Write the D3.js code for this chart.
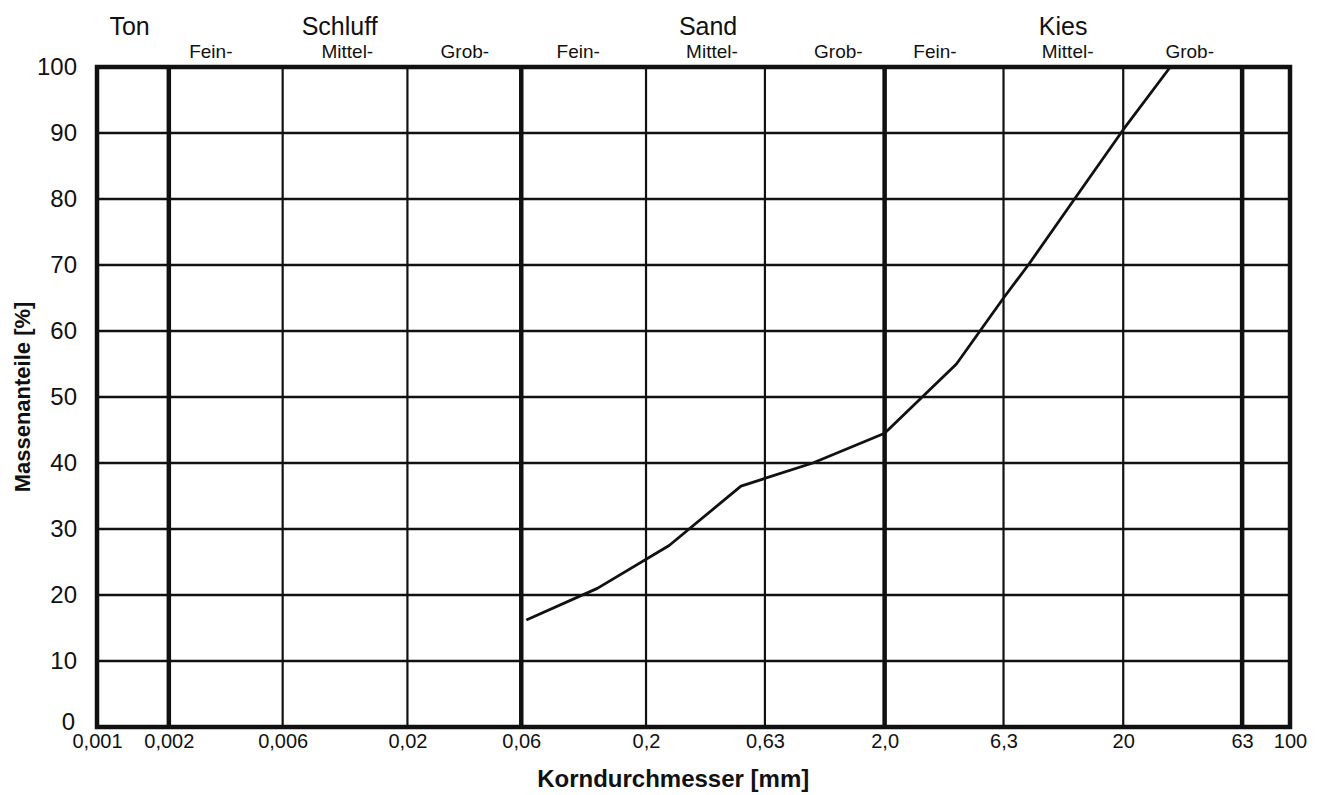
<!DOCTYPE html>
<html>
<head>
<meta charset="utf-8">
<script src="https://cdn.jsdelivr.net/npm/d3@7"></script>
<style>
  body { margin: 0; background: #fff; }
  svg text { font-family: Arial, "Liberation Sans", sans-serif; fill: #111; }
</style>
</head>
<body>
<svg width="1324" height="795"></svg>
<script>
// Korngrößenverteilung (Sieblinie)
var grain = [0.063, 0.125, 0.25, 0.5, 1.0, 2.0, 4.0, 6.3, 8.0, 12.5, 20, 31.5];
var passing = [16.2, 21, 27.5, 36.5, 40, 44.5, 55, 65, 70, 80, 90.5, 100];

var xTicks = [0.001, 0.002, 0.006, 0.02, 0.06, 0.2, 0.63, 2.0, 6.3, 20, 63, 100];
var xTickLabels = ["0,001", "0,002", "0,006", "0,02", "0,06", "0,2", "0,63", "2,0", "6,3", "20", "63", "100"];
var boundaries = [0.002, 0.06, 2.0, 63];
var yTicks = [0, 10, 20, 30, 40, 50, 60, 70, 80, 90, 100];

var mainClasses = ["Ton", "Schluff", "Sand", "Kies"];
var mainPos = [0.00137, 0.0104, 0.364, 11.2];
var subClasses = ["Fein-", "Mittel-", "Grob-", "Fein-", "Mittel-", "Grob-", "Fein-", "Mittel-", "Grob-"];
var subPos = [0.0030, 0.0112, 0.0348, 0.104, 0.378, 1.28, 3.25, 11.7, 38];

var svg = d3.select("svg"),
    margin = {top: 67, right: 34, bottom: 68, left: 97},
    width = +svg.attr("width") - margin.left - margin.right,
    height = +svg.attr("height") - margin.top - margin.bottom,
    g = svg.append("g").attr("transform", "translate(" + margin.left + "," + margin.top + ")");

var x = d3.scaleLog().domain([0.001, 100]).range([0, width]);
var y = d3.scaleLinear().domain([0, 100]).range([height, 0]);

// horizontal grid
g.selectAll(".hgrid")
  .data(yTicks.filter(function(d) { return d > 0 && d < 100; }))
  .enter().append("line")
    .attr("x1", 0).attr("x2", width)
    .attr("y1", function(d) { return y(d); })
    .attr("y2", function(d) { return y(d); })
    .attr("stroke", "#111")
    .attr("stroke-width", 2.5);

// vertical grid, thick at class boundaries
g.selectAll(".vgrid")
  .data(xTicks.slice(1, -1))
  .enter().append("line")
    .attr("x1", function(d) { return x(d); })
    .attr("x2", function(d) { return x(d); })
    .attr("y1", 0).attr("y2", height)
    .attr("stroke", "#111")
    .attr("stroke-width", function(d) { return boundaries.indexOf(d) >= 0 ? 4.5 : 2.2; });

// frame
g.append("rect")
  .attr("x", 0).attr("y", 0)
  .attr("width", width).attr("height", height)
  .attr("fill", "none")
  .attr("stroke", "#111")
  .attr("stroke-width", 4.5);

// axes
var xAxis = g.append("g")
    .attr("transform", "translate(0," + height + ")")
    .call(d3.axisBottom(x)
      .tickValues(xTicks)
      .tickSize(0)
      .tickPadding(7)
      .tickFormat(function(d, i) { return xTickLabels[i]; }));
xAxis.select(".domain").remove();
xAxis.selectAll("text").style("font-size", "20px").attr("fill", "#111");

var yAxis = g.append("g")
    .call(d3.axisLeft(y)
      .tickValues(yTicks)
      .tickSize(0)
      .tickPadding(20));
yAxis.select(".domain").remove();
yAxis.selectAll("text").style("font-size", "24px").attr("fill", "#111");
// the "0" sits a little higher and further left, as in the original sheet
yAxis.selectAll(".tick").filter(function(d) { return d === 0; })
  .select("text").attr("dy", "0.1em").attr("x", -22);

// curve
var line = d3.line()
    .x(function(d) { return x(d[0]); })
    .y(function(d) { return y(d[1]); });

g.append("path")
  .datum(d3.zip(grain, passing))
  .attr("fill", "none")
  .attr("stroke", "#111")
  .attr("stroke-width", 2.8)
  .attr("stroke-linejoin", "round")
  .attr("d", line);

// soil class labels
g.selectAll(".main")
  .data(mainClasses)
  .enter().append("text")
    .attr("x", function(d, i) { return x(mainPos[i]); })
    .attr("y", -32)
    .attr("text-anchor", "middle")
    .style("font-size", "25px")
    .text(function(d) { return d; });

g.selectAll(".sub")
  .data(subClasses)
  .enter().append("text")
    .attr("x", function(d, i) { return x(subPos[i]); })
    .attr("y", -9)
    .attr("text-anchor", "middle")
    .style("font-size", "19px")
    .text(function(d) { return d; });

// axis titles
svg.append("text")
  .attr("x", margin.left + x(0.26))
  .attr("y", 787)
  .attr("text-anchor", "middle")
  .style("font-size", "24px")
  .style("font-weight", "bold")
  .text("Korndurchmesser [mm]");

svg.append("text")
  .attr("transform", "translate(30,397) rotate(-90)")
  .attr("text-anchor", "middle")
  .style("font-size", "22px")
  .style("font-weight", "bold")
  .text("Massenanteile [%]");
</script>
</body>
</html>
